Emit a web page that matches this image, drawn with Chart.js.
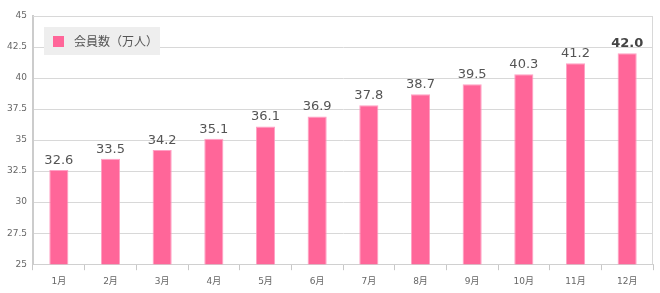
<!DOCTYPE html>
<html>
<head>
<meta charset="utf-8">
<script src="https://cdn.jsdelivr.net/npm/chart.js@4/dist/chart.umd.min.js"></script>
<style>
  html, body { margin: 0; padding: 0; background: #fff; }
  #wrap { width: 660px; height: 293px; }
</style>
</head>
<body>
<div id="wrap"><canvas id="c"></canvas></div>
<script>
const months = ['1月', '2月', '3月', '4月', '5月', '6月', '7月', '8月', '9月', '10月', '11月', '12月'];
const members = [32.6, 33.5, 34.2, 35.1, 36.1, 36.9, 37.8, 38.7, 39.5, 40.3, 41.2, 42.0];
const seriesName = '会員数（万人）';

const FONT = '"DejaVu Sans", "Noto Sans CJK JP", sans-serif';

// chart frame + value labels + legend box drawn inside the plot
const extras = {
    id: 'extras',
    afterDraw(chart) {
        const { ctx, chartArea: a } = chart;
        ctx.save();
        ctx.strokeStyle = '#d8d8d8';
        ctx.lineWidth = 1;
        ctx.beginPath();
        ctx.moveTo(a.left, a.top + 0.5);
        ctx.lineTo(a.right - 0.5, a.top + 0.5);
        ctx.lineTo(a.right - 0.5, a.bottom);
        ctx.stroke();

        const meta = chart.getDatasetMeta(0);
        ctx.textAlign = 'center';
        ctx.textBaseline = 'bottom';
        meta.data.forEach((bar, i) => {
            const last = i === members.length - 1;
            ctx.font = (last ? 'bold ' : '') + '13px ' + FONT;
            ctx.fillStyle = last ? '#444' : '#555';
            ctx.fillText(members[i].toFixed(1), bar.x, bar.y - 3);
        });

        // legend
        const lx = a.left + 11, ly = a.top + 11;
        ctx.fillStyle = '#eeeeee';
        ctx.fillRect(lx, ly, 116, 28);
        ctx.fillStyle = '#ff6699';
        ctx.fillRect(lx + 9, ly + 9, 11, 11);
        ctx.font = '12px "Noto Sans CJK JP", sans-serif';
        ctx.fillStyle = '#555';
        ctx.textAlign = 'left';
        ctx.textBaseline = 'middle';
        ctx.fillText(seriesName, lx + 30, ly + 14.5);
        ctx.restore();
    }
};

new Chart(document.getElementById('c'), {
    type: 'bar',
    data: {
        labels: months,
        datasets: [{
            label: seriesName,
            data: members,
            backgroundColor: '#ff6699',
            borderColor: 'rgba(255,150,190,0.9)',
            borderWidth: 1,
            categoryPercentage: 1,
            barPercentage: 0.37
        }]
    },
    options: {
        responsive: true,
        maintainAspectRatio: false,
        animation: false,
        layout: { padding: { top: 16, right: 7, left: 0, bottom: 0 } },
        plugins: { legend: { display: false }, tooltip: { enabled: false } },
        scales: {
            x: {
                offset: true,
                grid: { offset: true, drawOnChartArea: false, drawTicks: true, tickLength: 6, color: '#c8c8c8' },
                border: { color: '#d0d0d0', width: 1 },
                ticks: { color: '#666', font: { family: FONT, size: 9 }, padding: 6 }
            },
            y: {
                min: 25,
                max: 45,
                afterFit(scale) { scale.width = 33; },
                grid: { color: '#d8d8d8', drawTicks: false },
                border: { color: '#cccccc', width: 2 },
                ticks: {
                    stepSize: 2.5,
                    color: '#666',
                    font: { family: FONT, size: 9 },
                    padding: 6,
                    callback: v => String(v)
                }
            }
        }
    },
    plugins: [extras]
});
</script>
</body>
</html>
